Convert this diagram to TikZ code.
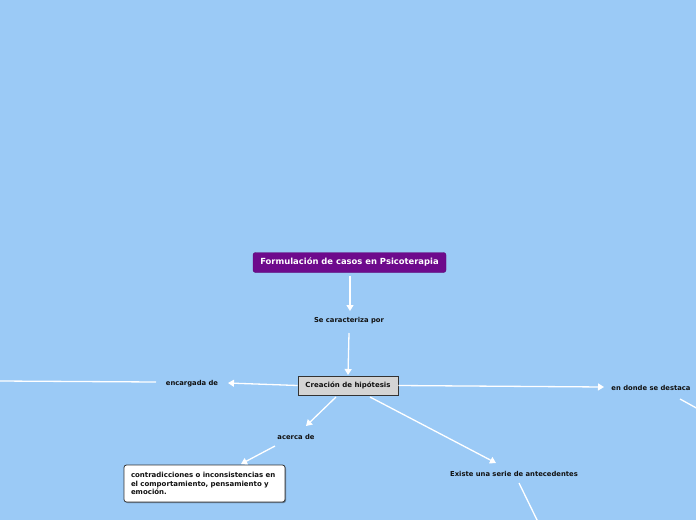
\documentclass[tikz,border=0pt]{standalone}
\usepackage{fontspec}
\setmainfont{DejaVu Sans}
\usetikzlibrary{arrows.meta,shadows}
\definecolor{bgblue}{HTML}{9BCAF6}
\definecolor{titlepurple}{HTML}{6E0A8C}
\definecolor{boxgray}{HTML}{D4D4D4}
\definecolor{txtdark}{HTML}{111111}
\tikzset{
  conn/.style={draw=white, line width=1.3pt},
  arr/.style={conn, -{Triangle[width=7pt,length=6pt]}},
  lbl/.style={font=\fontsize{6.8}{8}\selectfont\bfseries, text=txtdark, inner sep=1pt},
  titlebox/.style={fill=titlepurple, draw=titlepurple!80!black, rounded corners=2.5pt, text=white,
     font=\fontsize{8.4}{10}\selectfont\bfseries, minimum width=193pt, minimum height=20pt, inner sep=2pt},
  graybox/.style={fill=boxgray, draw=black!80, line width=0.8pt, font=\fontsize{7}{8}\selectfont\bfseries,
     text=txtdark, minimum width=100pt, minimum height=19pt, inner sep=2pt,
     drop shadow={shadow xshift=1.2pt, shadow yshift=-1.2pt, opacity=0.5, fill=black}},
  whitebox/.style={fill=white, draw=black!80, line width=0.8pt, rounded corners=2.5pt,
     font=\fontsize{7}{8.4}\selectfont\bfseries, text=txtdark,
     align=left, text width=147pt,
     minimum width=161pt, minimum height=37pt, inner xsep=7pt, inner ysep=3pt,
     drop shadow={shadow xshift=1pt, shadow yshift=-1pt, opacity=0.4, fill=black}},
}
\begin{document}
\begin{tikzpicture}[x=1pt,y=-1pt]
\fill[bgblue] (0,0) rectangle (696,520);
\useasboundingbox (0,0) rectangle (696,520);

\node[titlebox] (title) at (349.5,262.5) {Formulación de casos en Psicoterapia};
\node[lbl] (sec) at (349,321) {Se caracteriza por};
\node[graybox] (hip) at (348,385.5) {Creación de hipótesis};
\node[lbl] (enc) at (192,383.5) {encargada de};
\node[lbl] (dest) at (651,387.5) {en donde se destaca};
\node[lbl] (acerca) at (296,436.5) {acerca de};
\node[whitebox] (contra) at (204.5,483.5) {contradicciones o inconsistencias en\\el comportamiento, pensamiento y\\emoción.};
\node[lbl] (ante) at (514,473.5) {Existe una serie de antecedentes};

\coordinate (leftend) at (0,381);
\coordinate (rightend) at (700,410);
\coordinate (botend) at (538,522);

\draw[arr] (350,276) -- (350,311);
\draw[arr] (349,333) -- (348,375);
\draw[arr] (hip.west) -- (228,383);
\draw[conn] (156,382) -- (leftend);
\draw[arr] (hip.east) -- (604,387);
\draw[conn] (680,399) -- (rightend);
\draw[arr] (336,397) -- (306,426);
\draw[arr] (275,446) -- (241,464);
\draw[arr] (370,397) -- (496,463);
\draw[conn] (519,483) -- (botend);
\end{tikzpicture}
\end{document}
